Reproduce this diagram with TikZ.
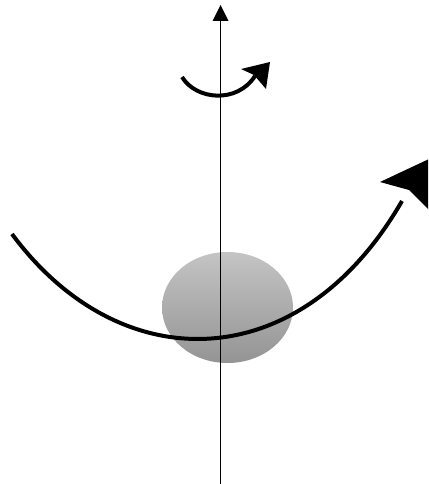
\documentclass[tikz,border=0pt]{standalone}
\usetikzlibrary{arrows.meta}
\definecolor{ballTop}{RGB}{196,196,196}
\definecolor{ballBot}{RGB}{148,148,148}
\tikzset{
  axisline/.style={line width=1.8pt, black},
  spinline/.style={line width=4pt, black},
  headfill/.style={fill=black},
  ball/.style={top color=ballTop, bottom color=ballBot, draw=none}
}
\begin{document}
\begin{tikzpicture}[x=1pt,y=-1pt]
\useasboundingbox (0,0) rectangle (428,484);
\clip (0,0) rectangle (428,484);
% ball
\shade[ball] (227.5,307.5) ellipse [x radius=65.5pt, y radius=55.5pt];
% vertical axis
\coordinate (axbot) at (220.5,484);
\coordinate (axtip) at (220.5,5);
\draw[axisline] (axbot) -- (220.5,20);
\fill[headfill] (axtip) -- (228.5,21) -- (212.5,21) -- cycle;
% small rotation arrow
\coordinate (s0) at (182,77);
\coordinate (s1) at (255,76);
\draw[spinline] (s0) .. controls (196,100) and (237,104) .. (s1);
\fill[headfill] (270,62) -- (241,69) -- (254,75) -- (266,89) -- cycle;
% large curve with arrow
\coordinate (b0) at (12,234);
\coordinate (b1) at (402,201);
\draw[spinline] (b0) .. controls (120,380) and (300,378) .. (b1);
\fill[headfill] (429,159) -- (380,182) -- (409,190) -- (431,212) -- cycle;
\end{tikzpicture}
\end{document}
